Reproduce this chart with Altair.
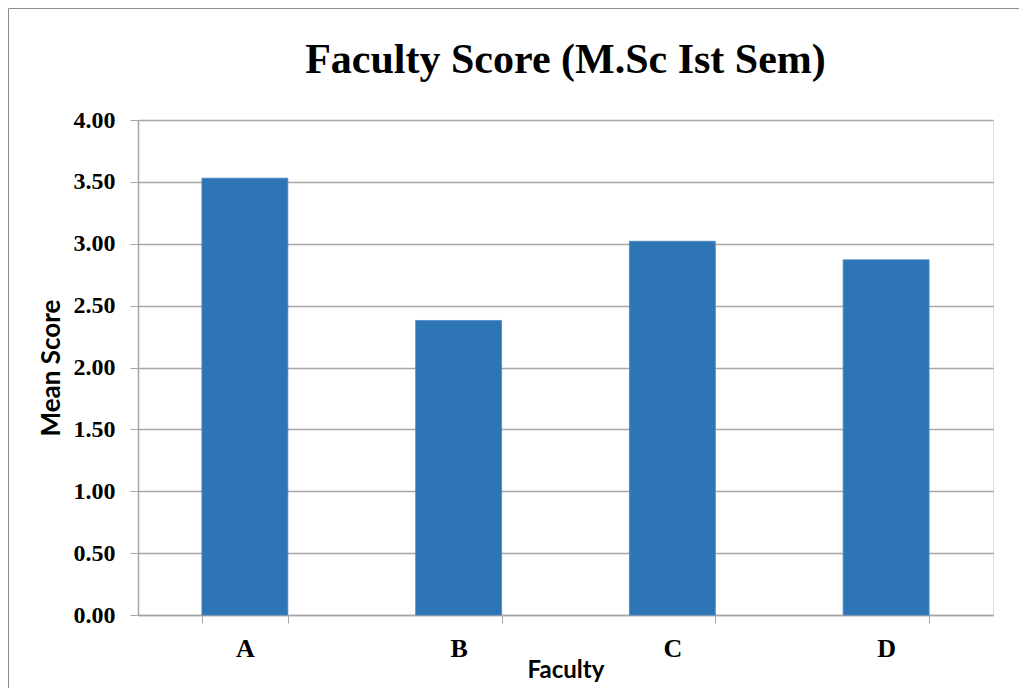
import altair as alt
import pandas as pd

faculty = ["A", "B", "C", "D"]
scores = [3.53, 2.38, 3.02, 2.87]
y_ticks = [0, 0.5, 1.0, 1.5, 2.0, 2.5, 3.0, 3.5, 4.0]

df = pd.DataFrame({"Faculty": faculty, "Score": scores})

W, H = 855, 495
PAD = {"left": 130, "top": 112, "right": 26, "bottom": 73}

grid_col = "#A6A6A6"
serif = "Liberation Serif"
sans = "Lato"

bars = alt.Chart(df).mark_bar(color="#2E75B6", stroke="#4A86C5", strokeWidth=0.8).encode(
    x=alt.X(
        "Faculty:N",
        sort=faculty,
        scale=alt.Scale(paddingInner=0.598, paddingOuter=0.299),
        axis=alt.Axis(
            title="Faculty",
            labelAngle=0,
            tickBand="extent",
            tickSize=8,
            tickColor=grid_col,
            domainColor=grid_col,
            domainWidth=1.5,
            grid=False,
            labelFont=serif,
            labelFontSize=26,
            labelFontWeight="bold",
            labelColor="#000000",
            labelPadding=12,
            titleFont=sans,
            titleFontSize=24,
            titleFontWeight="bold",
            titleColor="#000000",
            titlePadding=-3,
        ),
    ),
    y=alt.Y(
        "Score:Q",
        scale=alt.Scale(domain=[0, 4], nice=False),
        axis=alt.Axis(
            title="Mean Score",
            values=y_ticks,
            format=".2f",
            tickSize=8,
            tickColor=grid_col,
            domainColor=grid_col,
            domainWidth=1.5,
            grid=True,
            gridColor=grid_col,
            gridWidth=1.5,
            labelFont=serif,
            labelFontSize=24,
            labelFontWeight="bold",
            labelColor="#000000",
            labelPadding=15,
            titleFont=sans,
            titleFontSize=26,
            titleFontWeight="bold",
            titleColor="#000000",
            titlePadding=9,
        ),
    ),
)

border = alt.Chart(alt.Data(values=[{"k": 1}])).mark_rect(
    filled=False, stroke="#8C8C8C", strokeWidth=1
).encode(
    x=alt.value(-PAD["left"] + 0.5),
    x2=alt.value(W + 200),
    y=alt.value(-PAD["top"] + 0.5),
    y2=alt.value(H + 200),
)

chart = alt.layer(border, bars).properties(
    width=W,
    height=H,
    title=alt.TitleParams(
        "Faculty Score (M.Sc Ist Sem)",
        font=serif,
        fontSize=42,
        fontWeight="bold",
        color="#000000",
        anchor="middle",
        frame="group",
        offset=0,
        dy=74,
    ),
    autosize=alt.AutoSizeParams(type="none"),
    padding=PAD,
).configure_view(stroke=None).configure(background="white")

chart.save("out.html", embed_options={"renderer": "svg", "actions": False})
